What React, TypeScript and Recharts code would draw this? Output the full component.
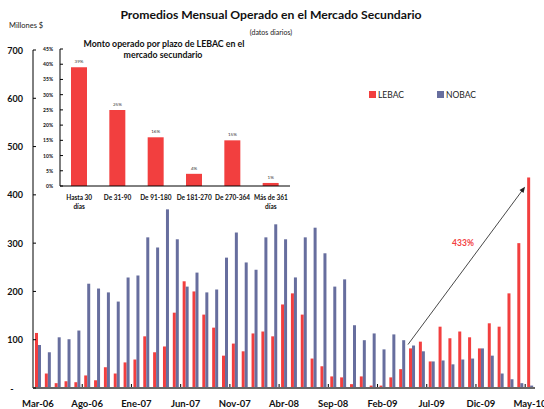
import React from 'react';
import { BarChart, Bar, XAxis, YAxis, ReferenceLine, LabelList } from 'recharts';

const months = ['Mar-06','Abr-06','May-06','Jun-06','Jul-06','Ago-06','Sep-06','Oct-06','Nov-06','Dic-06','Ene-07','Feb-07','Mar-07','Abr-07','May-07','Jun-07','Jul-07','Ago-07','Sep-07','Oct-07','Nov-07','Dic-07','Ene-08','Feb-08','Mar-08','Abr-08','May-08','Jun-08','Jul-08','Ago-08','Sep-08','Oct-08','Nov-08','Dic-08','Ene-09','Feb-09','Mar-09','Abr-09','May-09','Jun-09','Jul-09','Ago-09','Sep-09','Oct-09','Nov-09','Dic-09','Ene-10','Feb-10','Mar-10','Abr-10','May-10'];

const lebac = [114,30,10,14,12,26,16,43,30,53,59,107,74,86,156,221,200,152,125,67,92,76,113,117,107,173,196,152,61,45,24,22,8,24,5,5,22,39,82,96,55,127,103,117,105,82,134,127,196,300,436];

const nobac = [89,74,105,101,119,216,206,198,179,229,233,312,291,370,308,210,239,198,204,270,322,260,245,312,339,308,229,312,332,279,210,225,130,99,113,80,111,99,88,76,55,57,49,59,61,82,67,30,18,10,5];

const yTicks = [0,100,200,300,400,500,600,700];

const plazos = ['Hasta 30|días','De 31-90','De 91-180','De 181-270','De 270-364','Más de 361|días'];
const plazoPct = [39,25,16,4,15,1];
const insetTicks = [0,5,10,15,20,25,30,35,40,45];

const RED = '#F23F3F';
const BLUE = '#676E9E';
const FONT = 'Lato, "DejaVu Sans", sans-serif';

const mainData = months.map((m, i) => ({ month: m, LEBAC: lebac[i], NOBAC: nobac[i] }));
const insetData = plazos.map((p, i) => ({ name: p, pct: plazoPct[i] }));

const MainYTick = (props: any) => {
  const { y, payload } = props;
  const v = payload.value;
  return (
    <g>
      <line x1={33} x2={36} y1={y} y2={y} stroke="#000" strokeWidth={1} />
      <text x={v === 0 ? 12 : 23} y={y} dy={3.5} textAnchor={v === 0 ? 'middle' : 'end'}
        fontFamily={FONT} fontWeight={700} fontSize={9} fill="#111">{v === 0 ? '-' : v}</text>
    </g>
  );
};

const MainXTick = (props: any) => {
  const { x, y, payload } = props;
  return (
    <g>
      {payload.value !== months[0] && (
        <line x1={x - 4.9} x2={x - 4.9} y1={y - 1} y2={y - 4} stroke="#000" strokeWidth={1} />
      )}
      <text x={x} y={y} dy={19} textAnchor="middle" fontFamily={FONT} fontWeight={700}
        fontSize={9.5} fill="#111">{payload.value}</text>
    </g>
  );
};

const InsetYTick = (props: any) => {
  const { y, payload } = props;
  return (
    <g>
      <line x1={22} x2={25} y1={y} y2={y} stroke="#000" strokeWidth={1} />
      <text x={15} y={y} dy={2} textAnchor="end" fontFamily={FONT} fontWeight={700}
        fontSize={5} fill="#111">{payload.value + '%'}</text>
    </g>
  );
};

const InsetXTick = (props: any) => {
  const { x, y, payload } = props;
  const lines = String(payload.value).split('|');
  return (
    <g>
      {lines.map((l, i) => (
        <text key={i} x={x} y={y} dy={13.5 + i * 9} textAnchor="middle" fontFamily={FONT}
          fontWeight={700} fontSize={6.5} fill="#111">{l}</text>
      ))}
    </g>
  );
};

const ArrowShape = (props: any) => {
  const { x1, y1, x2, y2 } = props;
  if (x1 == null) return null;
  const ax = x1 - 4, ay = y1, bx = x2 - 5, by = y2;
  const ang = Math.atan2(by - ay, bx - ax);
  const L = 6, W = 2.5;
  const p1x = bx - L * Math.cos(ang) + W * Math.sin(ang);
  const p1y = by - L * Math.sin(ang) - W * Math.cos(ang);
  const p2x = bx - L * Math.cos(ang) - W * Math.sin(ang);
  const p2y = by - L * Math.sin(ang) + W * Math.cos(ang);
  return (
    <g>
      <line x1={ax} y1={ay} x2={bx - 3 * Math.cos(ang)} y2={by - 3 * Math.sin(ang)} stroke="#333" strokeWidth={0.9} />
      <polygon points={`${bx},${by} ${p1x},${p1y} ${p2x},${p2y}`} fill="#222" />
    </g>
  );
};

export default function App() {
  return (
    <div style={{ position: 'absolute', left: 0, top: 0, width: 544, height: 409, background: '#fff' }}>
      <div style={{ position: 'absolute', left: 0, top: 0 }}>
        <BarChart width={544} height={409} data={mainData}
          margin={{ top: 50, right: 9, bottom: 0, left: 0 }} barGap={0} barSize={3}>
          <YAxis width={33} domain={[0, 700]} ticks={yTicks} interval={0} tickLine={false}
            axisLine={{ stroke: '#000', strokeWidth: 1 }} tick={<MainYTick />} />
          <XAxis dataKey="month" interval={4} height={21} tickLine={false} tickSize={0} tickMargin={0}
            axisLine={{ stroke: '#666', strokeWidth: 2 }} tick={<MainXTick />} />
          <Bar dataKey="LEBAC" fill={RED} isAnimationActive={false} />
          <Bar dataKey="NOBAC" fill={BLUE} isAnimationActive={false} />
          <ReferenceLine segment={[{ x: 'May-09', y: 90 }, { x: 'May-10', y: 417 }]}
            shape={<ArrowShape />} ifOverflow="visible" />
        </BarChart>
      </div>
      <div style={{ position: 'absolute', left: 38, top: 36 }}>
        <BarChart width={260} height={180} data={insetData}
          margin={{ top: 13, right: 8, bottom: 0, left: 0 }} barSize={16}>
          <YAxis width={22} domain={[0, 45]} ticks={insetTicks} interval={0} tickLine={false}
            axisLine={{ stroke: '#000', strokeWidth: 1 }} tick={<InsetYTick />} />
          <XAxis dataKey="name" interval={0} height={30} tickLine={false} tickSize={0} tickMargin={0}
            axisLine={{ stroke: '#000', strokeWidth: 1 }} tick={<InsetXTick />} />
          <Bar dataKey="pct" fill={RED} isAnimationActive={false}>
            <LabelList dataKey="pct" position="top" offset={4}
              formatter={(v: any) => v + '%'}
              style={{ fontFamily: FONT, fontSize: 4.5, fill: '#333' }} />
          </Bar>
        </BarChart>
      </div>
      <svg width={544} height={409} style={{ position: 'absolute', left: 0, top: 0, pointerEvents: 'none' }}>
        <text x={271} y={19} textAnchor="middle" fontFamily={FONT} fontWeight={700} fontSize={12.2} fill="#111">
          Promedios Mensual Operado en el Mercado Secundario
        </text>
        <text x={271} y={35} textAnchor="middle" fontFamily={FONT} fontSize={7} fill="#222">(datos diarios)</text>
        <text x={9} y={28} fontFamily={FONT} fontSize={7.5} fill="#222">Millones $</text>
        <text x={164} y={47} textAnchor="middle" fontFamily={FONT} fontWeight={700} fontSize={8.8} fill="#111">
          Monto operado por plazo de LEBAC en el
        </text>
        <text x={163} y={58} textAnchor="middle" fontFamily={FONT} fontWeight={700} fontSize={8.8} fill="#111">
          mercado secundario
        </text>
        <rect x={369} y={91} width={7} height={7} fill={RED} />
        <text x={378} y={98} fontFamily={FONT} fontSize={8.5} fill="#222">LEBAC</text>
        <rect x={437} y={91} width={7} height={7} fill={BLUE} />
        <text x={446} y={98} fontFamily={FONT} fontSize={8.5} fill="#222">NOBAC</text>
        <text x={463} y={246} textAnchor="middle" fontFamily={FONT} fontWeight={700} fontSize={8.5} fill={RED}>433%</text>
      </svg>
    </div>
  );
}
